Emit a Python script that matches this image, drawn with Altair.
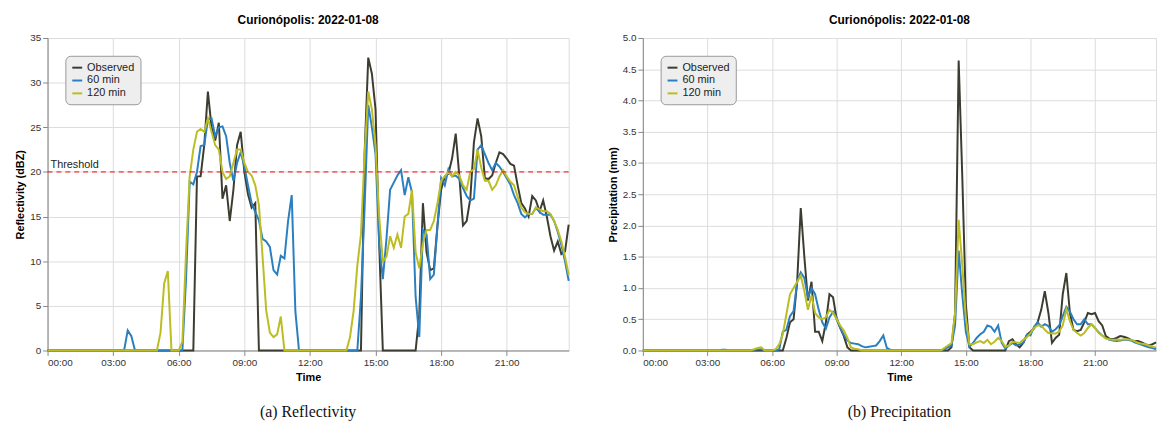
import altair as alt
import pandas as pd

# ---- data (10-minute steps, 00:00 .. 23:50) ----
times = pd.date_range("2022-01-08 00:00", periods=144, freq="10min").strftime("%Y-%m-%dT%H:%M").tolist()
series_names = ["Observed", "60 min", "120 min"]
series_colors = ["#3c3c30", "#2a7fc0", "#bcbd22"]
hour_ticks = ["00:00", "03:00", "06:00", "09:00", "12:00", "15:00", "18:00", "21:00"]

refl_obs = ([0.0] * 41
            + [19.5, 19.5, 23, 29, 25, 23.5, 25.5, 17, 18.5, 14.5, 18, 23, 24.5, 20, 17.5, 16, 16.5]
            + [0.0] * 29
            + [22, 32.8, 31, 27, 12]
            + [0.0] * 10
            + [4, 16.5, 11, 9, 9.2, 14, 18, 19.5, 19.8, 21.5, 24.3, 19.5, 14, 14.5, 17, 23.3, 26, 24,
               19.3, 19.2, 19.6, 21, 22.2, 22, 21.5, 20.9, 20.7, 18.5, 16.5, 15.9, 15, 17.3, 16.8, 15.6,
               16.8, 15, 12.8, 11.2, 12.2, 10.8, 11.1, 14.1])

refl_60 = ([0.0] * 22 + [2.25, 1.6] + [0.0] * 14
           + [8, 18.9, 18.6, 20, 22.9, 23, 25.9, 26, 24, 25, 25.1, 24, 21, 19, 21, 22.2, 20.6, 18.5, 16.5,
              15.5, 14.6, 12.5, 12.2, 11.6, 9, 8.5, 10.6, 10.3, 14.5, 17.4, 4.4]
           + [0.0] * 17
           + [6, 16, 27.5, 25, 22, 12, 8, 12.5, 18, 18.8, 19.6, 20.2, 17.4, 19.4, 17.7, 6, 1.5, 13.5, 13, 8,
              8.5, 14, 19.3, 18.5, 20.3, 19.5, 19.6, 19.2, 18.2, 17.3, 16.8, 17, 22.5, 23, 22, 21, 20.2, 21,
              20.6, 20, 19.3, 18.6, 17.4, 16.5, 15.3, 14.9, 15.3, 15.3, 16, 15.5, 15.2, 15.2, 15.2, 14.5,
              13.3, 11.8, 10, 7.8])

refl_120 = ([0.0] * 31 + [2, 7.5, 8.9] + [0.0] * 3
            + [1, 11, 19.5, 22.5, 24.5, 24.8, 24.5, 26, 24.5, 23, 22.5, 20, 19.2, 19.5, 21, 22.5, 22.5, 21,
               20, 19.6, 18.5, 16.3, 10.5, 4.5, 2, 1.5, 1.8, 3.8]
            + [0.0] * 18
            + [1.5, 4.5, 9.5, 13, 22, 29, 27, 23, 15, 10, 10.5, 12.8, 11.5, 13, 11.5, 15, 15.3, 18, 11, 9.2,
               12, 13.5, 13.5, 14.5, 16.5, 19, 19.5, 20, 19.5, 20, 19.6, 18.5, 18, 20, 20.3, 22.5, 20.5, 19,
               19, 18, 18.5, 19.5, 20.2, 19.5, 18.9, 18.5, 17.2, 16, 15.5, 15.3, 15.3, 16, 15.8, 15.6, 15.6,
               15.3, 14.5, 13.5, 12.2, 10.5, 8.5])

prec_obs = ([0.0] * 40
            + [0.2, 0.45, 0.5, 1.1, 2.28, 1.5, 0.8, 1.1, 0.3, 0.3, 0.15, 0.45, 0.9, 0.85, 0.5, 0.36, 0.23, 0.05]
            + [0.0] * 28
            + [0.05, 0.6, 4.64, 2.8, 0.74, 0.05]
            + [0.0] * 10
            + [0.15, 0.18, 0.1, 0.05, 0.12, 0.25, 0.3, 0.35, 0.45, 0.65, 0.95, 0.6, 0.12, 0.2, 0.25, 0.9,
               1.24, 0.6, 0.33, 0.31, 0.33, 0.45, 0.6, 0.58, 0.6, 0.47, 0.4, 0.23, 0.19, 0.18, 0.2, 0.23,
               0.22, 0.2, 0.17, 0.15, 0.15, 0.13, 0.1, 0.08, 0.1, 0.13])

prec_60 = ([0.0] * 22 + [0.01, 0.01] + [0.0] * 7 + [0.01, 0.02, 0.02] + [0.0] * 4
           + [0.02, 0.3, 0.33, 0.55, 0.63, 1.1, 1.25, 1.16, 0.85, 1.0, 0.9, 0.65, 0.45, 0.35, 0.53, 0.62,
              0.53, 0.36, 0.25, 0.16, 0.12, 0.11, 0.1, 0.07, 0.05, 0.06, 0.07, 0.08, 0.15, 0.24, 0.04, 0.01]
           + [0.0] * 14 + [0.02, 0.05]
           + [0.08, 0.4, 1.6, 0.9, 0.3, 0.06, 0.12, 0.2, 0.26, 0.3, 0.4, 0.38, 0.3, 0.4, 0.12, 0.03, 0.08,
              0.12, 0.08, 0.1, 0.12, 0.25, 0.24, 0.38, 0.45, 0.38, 0.42, 0.39, 0.3, 0.34, 0.4, 0.55, 0.7,
              0.62, 0.5, 0.42, 0.42, 0.5, 0.42, 0.42, 0.36, 0.29, 0.24, 0.2, 0.17, 0.16, 0.15, 0.16, 0.17,
              0.17, 0.16, 0.13, 0.11, 0.09, 0.07, 0.05, 0.04, 0.02])

prec_120 = ([0.0] * 31 + [0.02, 0.04, 0.05] + [0.0] * 3 + [0.02]
            + [0.1, 0.26, 0.58, 0.9, 1.0, 1.1, 1.2, 0.95, 0.65, 0.88, 0.6, 0.53, 0.5, 0.53, 0.65, 0.6, 0.5,
               0.4, 0.32, 0.2, 0.05, 0.03, 0.02]
            + [0.0] * 23 + [0.04, 0.08]
            + [0.12, 0.6, 2.09, 1.37, 0.53, 0.1, 0.1, 0.13, 0.15, 0.12, 0.17, 0.1, 0.14, 0.2, 0.15, 0.06,
               0.08, 0.14, 0.13, 0.12, 0.17, 0.21, 0.28, 0.36, 0.4, 0.4, 0.33, 0.28, 0.27, 0.27, 0.3, 0.4,
               0.66, 0.47, 0.33, 0.28, 0.24, 0.28, 0.36, 0.42, 0.36, 0.28, 0.24, 0.19, 0.18, 0.17, 0.17,
               0.17, 0.18, 0.18, 0.17, 0.15, 0.12, 0.11, 0.1, 0.08, 0.06, 0.05])

threshold_value = 20


def long_frame(obs, m60, m120):
    rows = []
    for k, (name, vals) in enumerate(zip(series_names, [obs, m60, m120])):
        for t, v in zip(times, vals):
            rows.append({"time": t, "series": name, "value": v, "series_order": k})
    return pd.DataFrame(rows)


tick_values = [alt.DateTime(year=2022, month=1, date=8, hours=int(h[:2])) for h in hour_ticks]
FONT = "Liberation Sans"
TITLE = alt.TitleParams("Curionópolis: 2022-01-08", fontSize=12, fontWeight="bold",
                        font=FONT, color="#000000", anchor="middle", offset=6)


def panel(df, ytitle, ymax, ystep, yfmt, caption, width, height, threshold=False):
    yvals = [round(i * ystep, 2) for i in range(int(round(ymax / ystep)) + 1)]
    lines = alt.Chart(df).mark_line(strokeWidth=2).encode(
        x=alt.X("time:T", title="Time", scale=alt.Scale(nice=False),
                axis=alt.Axis(format="%H:%M", values=tick_values, labelAngle=0)),
        y=alt.Y("value:Q", title=ytitle, scale=alt.Scale(domain=[0, ymax], nice=False),
                axis=alt.Axis(values=yvals, format=yfmt)),
        color=alt.Color("series:N", sort=series_names,
                        scale=alt.Scale(domain=series_names, range=series_colors),
                        legend=alt.Legend(title=None, orient="top-left", offset=18)),
        order=alt.Order("series_order:Q"),
    )
    layers = []
    if threshold:
        tdf = pd.DataFrame({"y": [threshold_value], "label": ["Threshold"]})
        rule = alt.Chart(tdf).mark_rule(color="#ff0000", strokeDash=[5, 4], strokeWidth=1).encode(
            y=alt.Y("y:Q"))
        label = alt.Chart(tdf).mark_text(align="left", baseline="bottom", dy=-2, fontSize=11,
                                         font=FONT, color="#222222").encode(
            x=alt.value(3), y=alt.Y("y:Q"), text="label:N")
        layers += [rule, label]
    cap = alt.Chart(pd.DataFrame({"c": [caption]})).mark_text(
        font="Liberation Serif", fontSize=16, baseline="middle", align="center", color="#111111"
    ).encode(x=alt.value(width / 2), y=alt.value(height + 62), text="c:N")
    return alt.layer(lines, *layers, cap).properties(width=width, height=height, title=TITLE)


refl_df = long_frame(refl_obs, refl_60, refl_120)
prec_df = long_frame(prec_obs, prec_60, prec_120)

left = panel(refl_df, "Reflectivity (dBZ)", 35, 5, "d", "(a) Reflectivity", 527, 316, threshold=True)
right = panel(prec_df, "Precipitation (mm)", 5.0, 0.5, ".1f", "(b) Precipitation", 519, 316)

chart = alt.hconcat(left, right, spacing=33).resolve_scale(
    x="independent", y="independent"
).resolve_legend(color="independent").properties(
    padding={"left": 6, "top": 3, "right": 0, "bottom": 0}
).configure(
    font=FONT
).configure_axis(
    labelFontSize=10, titleFontSize=11, labelColor="#333333", titleColor="#000000",
    gridColor="#dddddd", domainColor="#888888", tickColor="#888888", labelFont=FONT, titleFont=FONT
).configure_legend(
    fillColor="#eeeeee", strokeColor="#999999", cornerRadius=5, padding=6,
    labelFontSize=11, labelFont=FONT, labelColor="#222222",
    symbolType="stroke", symbolStrokeWidth=2, symbolSize=100, rowPadding=2
).configure_view(stroke="#dddddd")

chart.save("out.html", embed_options={"renderer": "svg", "actions": False})
